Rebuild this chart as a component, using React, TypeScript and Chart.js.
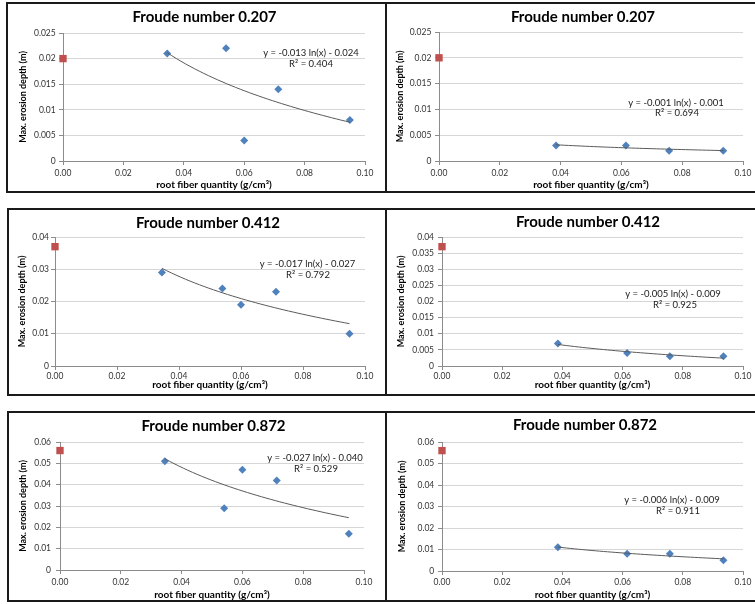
import React, { useEffect, useRef } from 'react';
import { Chart, registerables } from 'chart.js';

Chart.register(...registerables);

// ---------------- DATA ----------------
const panelTitles = [
  'Froude number 0.207',
  'Froude number 0.207',
  'Froude number 0.412',
  'Froude number 0.412',
  'Froude number 0.872',
  'Froude number 0.872',
];

const rootFiberLeft = [0.0345, 0.054, 0.06, 0.0713, 0.095];
const rootFiberRight = [0.0385, 0.0615, 0.0757, 0.0935];

const depth207Left = [0.021, 0.022, 0.004, 0.014, 0.008];
const depth207Right = [0.003, 0.003, 0.002, 0.002];
const depth412Left = [0.029, 0.024, 0.019, 0.023, 0.01];
const depth412Right = [0.007, 0.004, 0.003, 0.003];
const depth872Left = [0.051, 0.029, 0.047, 0.042, 0.017];
const depth872Right = [0.011, 0.008, 0.008, 0.005];

const controlFiber = 0;
const controlDepth = [0.02, 0.02, 0.037, 0.037, 0.056, 0.056];

const yAxisMax = [0.025, 0.025, 0.04, 0.04, 0.06, 0.06];
const yAxisStep = [0.005, 0.005, 0.01, 0.005, 0.01, 0.01];
const xAxisMin = 0;
const xAxisMax = 0.1;
const xAxisStep = 0.02;

const equationLabels = [
  'y = -0.013 ln(x) - 0.024',
  'y = -0.001 ln(x) - 0.001',
  'y = -0.017 ln(x) - 0.027',
  'y = -0.005 ln(x) - 0.009',
  'y = -0.027 ln(x) - 0.040',
  'y = -0.006 ln(x) - 0.009',
];
const r2Labels = ['R² = 0.404', 'R² = 0.694', 'R² = 0.792', 'R² = 0.925', 'R² = 0.529', 'R² = 0.911'];

const xTitle = 'root fiber quantity (g/cm³)';
const yTitle = 'Max. erosion depth (m)';

const seriesX = [rootFiberLeft, rootFiberRight, rootFiberLeft, rootFiberRight, rootFiberLeft, rootFiberRight];
const seriesY = [depth207Left, depth207Right, depth412Left, depth412Right, depth872Left, depth872Right];

// ---------------- LAYOUT (absolute page pixels) ----------------
type Lay = {
  cell: [number, number, number, number];
  plot: [number, number, number, number]; // L, R, T, B
  labelD: number;
  titleD: number;
  yTitleX: number;
  yGap: number;
  title: [number, number];
  eq: [number, number];
  r2: [number, number];
};

const layouts: Lay[] = [
  { cell: [8, 4, 377, 187], plot: [63, 365, 33, 161], labelD: 12.7, titleD: 24, yTitleX: 23, yGap: 7.3, title: [204.5, 17], eq: [311, 53], r2: [311, 63.5] },
  { cell: [387, 4, 368, 187], plot: [439, 743, 32, 161], labelD: 12.7, titleD: 24, yTitleX: 400, yGap: 7.6, title: [583, 17], eq: [676, 102.7], r2: [677, 112.5] },
  { cell: [9, 210, 376, 184], plot: [55, 365, 237, 366], labelD: 10, titleD: 19, yTitleX: 21.7, yGap: 6, title: [208, 223], eq: [307.5, 263.5], r2: [308, 274.5] },
  { cell: [387, 210, 368, 184], plot: [442, 743, 237, 366], labelD: 10, titleD: 18.7, yTitleX: 401, yGap: 8, title: [588, 222], eq: [673, 294.3], r2: [675, 304.5] },
  { cell: [9, 413, 376, 187], plot: [60, 364, 442, 570], labelD: 12.7, titleD: 24.5, yTitleX: 23.3, yGap: 9, title: [213.5, 426], eq: [315, 457.5], r2: [316, 468.5] },
  { cell: [387, 413, 368, 187], plot: [442, 743, 442, 571], labelD: 11.7, titleD: 24, yTitleX: 401.7, yGap: 7.7, title: [585, 425], eq: [672, 499.5], r2: [678, 511] },
];

const FONT = 'Lato, Carlito, "Open Sans", sans-serif';
const TICK_SIZE = 8.5;
const X_TITLE_SIZE = 10;
const Y_TITLE_SIZE = 9;
const TITLE_SIZE = 15;
const EQ_SIZE = 9.5;
const BLUE = '#4F81BD';
const RED = '#C0504D';

function logFit(xs: number[], ys: number[]) {
  const lx = xs.map((x) => Math.log(x));
  const n = xs.length;
  const mx = lx.reduce((a, b) => a + b, 0) / n;
  const my = ys.reduce((a, b) => a + b, 0) / n;
  let sxy = 0;
  let sxx = 0;
  for (let i = 0; i < n; i++) {
    sxy += (lx[i] - mx) * (ys[i] - my);
    sxx += (lx[i] - mx) * (lx[i] - mx);
  }
  const a = sxy / sxx;
  return { a, b: my - a * mx };
}

const textPlugin = {
  id: 'panelText',
  afterDraw(chart: any, _args: any, opts: any) {
    const ctx = chart.ctx;
    ctx.save();
    ctx.textAlign = 'center';
    ctx.textBaseline = 'middle';
    ctx.fillStyle = '#000';
    ctx.font = `bold ${TITLE_SIZE}px ${FONT}`;
    ctx.fillText(opts.title, opts.titleX, opts.titleY);
    ctx.fillStyle = '#1a1a1a';
    ctx.font = `${EQ_SIZE}px ${FONT}`;
    ctx.fillText(opts.eq, opts.eqX, opts.eqY);
    ctx.fillText(opts.r2, opts.r2X, opts.r2Y);
    ctx.restore();
  },
};

function Panel({ idx }: { idx: number }) {
  const ref = useRef<HTMLCanvasElement | null>(null);
  const lay = layouts[idx];
  const [cx, cy, cw, ch] = lay.cell;

  useEffect(() => {
    if (!ref.current) return;
    const [pl, pr, pt, pb] = lay.plot;
    const L = pl - cx;
    const T = pt - cy;
    const Rc = pr - cx;
    const Bc = pb - cy;
    const xScaleH = ch - Bc;
    const tickLH = TICK_SIZE * 1.2;
    const xTitleLH = X_TITLE_SIZE * 1.2;
    const yTitleLH = Y_TITLE_SIZE * 1.2;

    const xs = seriesX[idx];
    const ys = seriesY[idx];
    const fit = logFit(xs, ys);
    const xmin = Math.min(...xs);
    const xmax = Math.max(...xs);
    const N = 40;
    const trend: { x: number; y: number }[] = [];
    for (let i = 0; i <= N; i++) {
      const x = xmin + ((xmax - xmin) * i) / N;
      trend.push({ x, y: fit.a * Math.log(x) + fit.b });
    }

    const chart = new Chart(ref.current, {
      type: 'scatter',
      data: {
        datasets: [
          {
            type: 'line',
            data: trend,
            borderColor: '#5a5a5a',
            borderWidth: 1,
            pointRadius: 0,
            fill: false,
            tension: 0,
          } as any,
          {
            data: xs.map((x, i) => ({ x, y: ys[i] })),
            pointStyle: 'rectRot',
            pointRadius: 4,
            backgroundColor: BLUE,
            borderColor: BLUE,
            borderWidth: 0,
          },
          {
            data: [{ x: controlFiber, y: controlDepth[idx] }],
            pointStyle: 'rect',
            pointRadius: 5.2,
            backgroundColor: RED,
            borderColor: RED,
            borderWidth: 0,
            clip: false as any,
          },
        ],
      },
      options: {
        responsive: false,
        animation: false,
        events: [],
        layout: { padding: { left: 0, top: T, right: cw - Rc, bottom: 0 } },
        plugins: {
          legend: { display: false },
          tooltip: { enabled: false },
          panelText: {
            title: panelTitles[idx],
            titleX: lay.title[0] - cx,
            titleY: lay.title[1] - cy,
            eq: equationLabels[idx],
            eqX: lay.eq[0] - cx,
            eqY: lay.eq[1] - cy,
            r2: r2Labels[idx],
            r2X: lay.r2[0] - cx,
            r2Y: lay.r2[1] - cy,
          },
        } as any,
        scales: {
          x: {
            type: 'linear',
            min: xAxisMin,
            max: xAxisMax,
            afterFit: (s: any) => {
              s.height = xScaleH;
            },
            ticks: {
              stepSize: xAxisStep,
              callback: (v: any) => Number(v).toFixed(2),
              font: { family: FONT, size: TICK_SIZE },
              color: '#333',
              padding: lay.labelD - 4 - tickLH / 2,
              maxRotation: 0,
            },
            grid: { drawOnChartArea: false, drawTicks: true, tickLength: 4, tickColor: '#8c8c8c' },
            border: { display: true, color: '#8c8c8c' },
            title: {
              display: true,
              text: xTitle,
              color: '#000',
              font: { family: FONT, size: X_TITLE_SIZE, weight: 'bold' },
              padding: { top: 0, bottom: xScaleH - lay.titleD - xTitleLH / 2 },
            },
          },
          y: {
            type: 'linear',
            min: 0,
            max: yAxisMax[idx],
            afterFit: (s: any) => {
              s.width = L;
            },
            ticks: {
              stepSize: yAxisStep[idx],
              callback: (v: any) => String(Number(Number(v).toFixed(4))),
              font: { family: FONT, size: TICK_SIZE },
              color: '#333',
              padding: lay.yGap - 4,
            },
            grid: { color: '#d6d6d6', drawTicks: true, tickLength: 4, tickColor: '#8c8c8c' },
            border: { display: true, color: '#8c8c8c' },
            title: {
              display: true,
              text: yTitle,
              color: '#000',
              font: { family: FONT, size: Y_TITLE_SIZE, weight: 'bold' },
              padding: { top: lay.yTitleX - cx - yTitleLH / 2, bottom: 0 },
            },
          },
        },
      } as any,
      plugins: [textPlugin],
    });
    return () => chart.destroy();
  }, [idx]);

  return (
    <canvas
      ref={ref}
      width={cw}
      height={ch}
      style={{ position: 'absolute', left: cx, top: cy, width: cw, height: ch }}
    />
  );
}

const rowBoxes = [
  { top: 2, height: 191, left: 6 },
  { top: 208, height: 188, left: 7 },
  { top: 411, height: 191, left: 7 },
];

export default function App() {
  return (
    <div
      style={{
        position: 'absolute',
        left: 0,
        top: 0,
        width: 755,
        height: 604,
        overflow: 'hidden',
        background: '#fff',
      }}
    >
      {layouts.map((_, i) => (
        <Panel key={i} idx={i} />
      ))}
      {rowBoxes.map((b, i) => (
        <React.Fragment key={'b' + i}>
          <div
            style={{
              position: 'absolute',
              left: b.left,
              top: b.top,
              width: 820,
              height: b.height,
              border: '2px solid #1a1a1a',
              boxSizing: 'border-box',
              pointerEvents: 'none',
            }}
          />
          <div
            style={{
              position: 'absolute',
              left: 385,
              top: b.top,
              width: 2,
              height: b.height,
              background: '#1a1a1a',
            }}
          />
        </React.Fragment>
      ))}
    </div>
  );
}
